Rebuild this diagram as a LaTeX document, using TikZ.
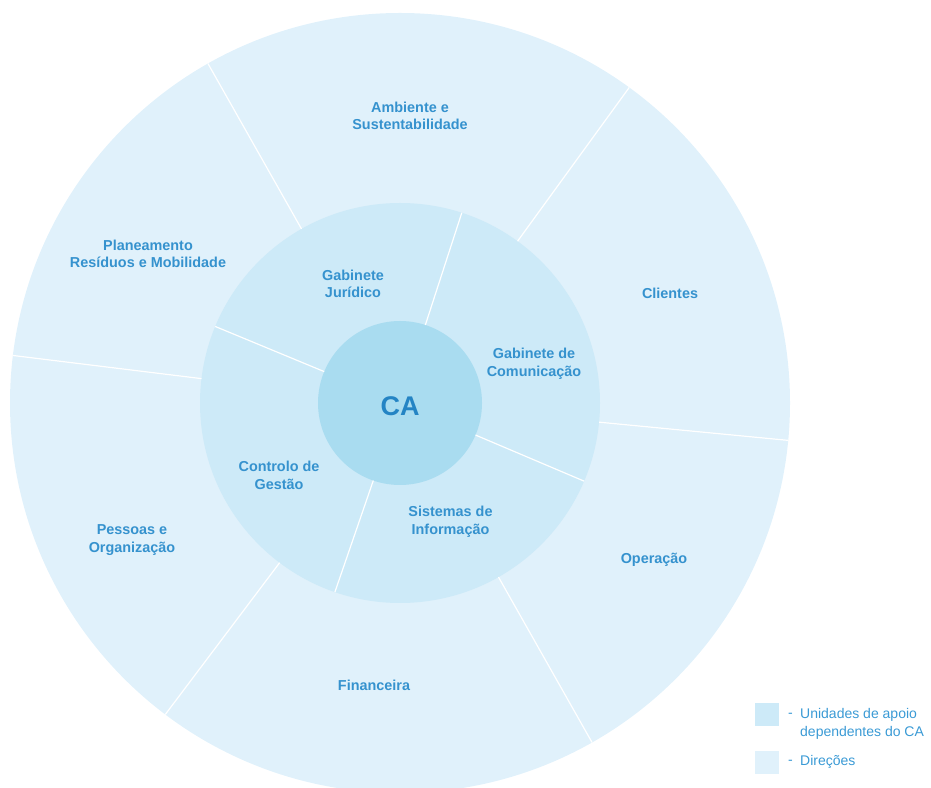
\documentclass[tikz,border=0pt]{standalone}
\usepackage{fontspec}
\setmainfont{Liberation Sans}
\definecolor{outerc}{HTML}{E0F1FB}
\definecolor{midc}{HTML}{CDEAF8}
\definecolor{innerc}{HTML}{A9DCF0}
\definecolor{txtc}{HTML}{3592CE}
\definecolor{cac}{HTML}{2484C4}
\definecolor{legc}{HTML}{3A9AD5}
\begin{document}
\begin{tikzpicture}[x=1pt,y=1pt,
  lbl/.style={font=\fontsize{14.4}{17.7}\selectfont\bfseries, text=txtc, align=center, inner sep=0pt},
  leg/.style={font=\fontsize{14}{18}\selectfont, text=legc, align=left, inner sep=0pt, anchor=west},
  divider/.style={draw=white, line width=1.2pt},
  legbox/.style={minimum width=24pt, minimum height=23pt, inner sep=0pt}]
\useasboundingbox (0,0) rectangle (931,787);
\coordinate (c) at (400,384);
% rings
\fill[outerc] (c) circle (390);
\fill[midc] (c) circle (200);
\fill[innerc] (c) circle (82);
% outer dividers
\foreach \a in {119.5,54,-5.5,-60.5,233,173}
  \draw[divider] ([shift={(\a:200)}]c) -- ([shift={(\a:390)}]c);
% inner dividers
\foreach \a in {72,157.5,251,-23}
  \draw[divider] ([shift={(\a:82)}]c) -- ([shift={(\a:200)}]c);
% outer labels
\node[lbl] (amb) at (410,671) {Ambiente e\\Sustentabilidade};
\node[lbl] (plan) at (148,533) {Planeamento\\Resíduos e Mobilidade};
\node[lbl] (cli) at (670,494) {Clientes};
\node[lbl] (pes) at (132,247) {Pessoas e\\Organização};
\node[lbl] (fin) at (374,102) {Financeira};
\node[lbl] (ope) at (654,227) {Operação};
% middle labels
\node[lbl] (jur) at (353,503) {Gabinete\\Jurídico};
\node[lbl] (com) at (534,423) {Gabinete de\\Comunicação};
\node[lbl] (con) at (279,311.5) {Controlo de\\Gestão};
\node[lbl] (sis) at (450.5,265) {Sistemas de\\Informação};
% centre
\node[font=\fontsize{27}{30}\selectfont\bfseries, text=cac, inner sep=0pt] (ca) at (400,381) {CA};
% legend
\node[legbox, fill=midc] (sq1) at (767,72.5) {};
\node[legbox, fill=outerc] (sq2) at (767,25) {};
\node[leg] (d1) at (788,72) {-};
\node[leg] (t1) at (800,63) {Unidades de apoio\\dependentes do CA};
\node[leg] (d2) at (788,25) {-};
\node[leg] (t2) at (800,25) {Direções};
\end{tikzpicture}
\end{document}
